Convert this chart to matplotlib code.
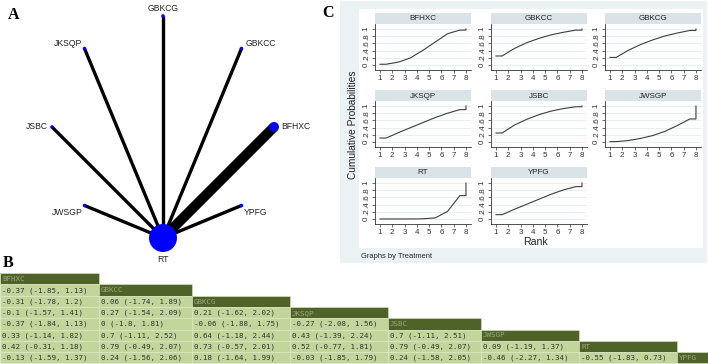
import numpy as np
import matplotlib
matplotlib.use('Agg')
import matplotlib.pyplot as plt
from matplotlib.patches import Rectangle

treatments = ['BFHXC', 'GBKCC', 'GBKCG', 'JKSQP', 'JSBC', 'JWSGP', 'RT', 'YPFG']

# network plot: every active arm was compared with RT
edges = [('BFHXC', 'RT'), ('GBKCC', 'RT'), ('GBKCG', 'RT'), ('JKSQP', 'RT'),
         ('JSBC', 'RT'), ('JWSGP', 'RT'), ('YPFG', 'RT')]
edge_studies = [3, 1, 1, 1, 1, 1, 1]
node_weight = [25, 3.2, 3.2, 3.2, 3.2, 3.2, 196, 3.2]

# cumulative ranking probabilities, P(rank <= k) for k = 1..7
cumprob = {
    'BFHXC': [0.02, 0.08, 0.20, 0.41, 0.64, 0.87, 0.97],
    'GBKCC': [0.25, 0.46, 0.62, 0.74, 0.84, 0.91, 0.97],
    'GBKCG': [0.21, 0.41, 0.57, 0.70, 0.81, 0.89, 0.96],
    'JKSQP': [0.11, 0.26, 0.40, 0.54, 0.68, 0.80, 0.90],
    'JSBC':  [0.25, 0.47, 0.63, 0.76, 0.86, 0.93, 0.98],
    'JWSGP': [0.01, 0.04, 0.10, 0.18, 0.30, 0.46, 0.64],
    'RT':    [0.00, 0.00, 0.00, 0.005, 0.03, 0.21, 0.65],
    'YPFG':  [0.12, 0.27, 0.41, 0.55, 0.69, 0.81, 0.90],
}

# league table (lower triangle), row i compares treatment i with column j
league = [
    [],
    ['-0.37 (-1.85, 1.13)'],
    ['-0.31 (-1.78, 1.2)', '0.06 (-1.74, 1.89)'],
    ['-0.1 (-1.57, 1.41)', '0.27 (-1.54, 2.09)', '0.21 (-1.62, 2.02)'],
    ['-0.37 (-1.84, 1.13)', '0 (-1.8, 1.81)', '-0.06 (-1.88, 1.75)', '-0.27 (-2.08, 1.56)'],
    ['0.33 (-1.14, 1.82)', '0.7 (-1.11, 2.52)', '0.64 (-1.18, 2.44)', '0.43 (-1.39, 2.24)',
     '0.7 (-1.11, 2.51)'],
    ['0.42 (-0.31, 1.18)', '0.79 (-0.49, 2.07)', '0.73 (-0.57, 2.01)', '0.52 (-0.77, 1.81)',
     '0.79 (-0.49, 2.07)', '0.09 (-1.19, 1.37)'],
    ['-0.13 (-1.59, 1.37)', '0.24 (-1.56, 2.06)', '0.18 (-1.64, 1.99)', '-0.03 (-1.85, 1.79)',
     '0.24 (-1.58, 2.05)', '-0.46 (-2.27, 1.34)', '-0.55 (-1.83, 0.73)'],
]

W, H = 708, 364
fig = plt.figure(figsize=(W / 100, H / 100), dpi=100)
SANS = 'Liberation Sans'


def px_axes(x0, y0, w, h, **kw):
    return fig.add_axes([x0 / W, 1 - (y0 + h) / H, w / W, h / H], **kw)


base = px_axes(0, 0, W, H, zorder=0)
base.set_xlim(0, W)
base.set_ylim(H, 0)
base.axis('off')

# panel letters
for lab, (x, y) in zip('ABC', [(8, 15), (3, 263), (322, 13)]):
    base.text(x, y, lab, fontsize=11.5, fontweight='bold', family='Liberation Serif',
              va='center', ha='left')

# ---------------- A: network ----------------
cx, cy, R = 163, 127, 111
ax = px_axes(13, 0, 300, 272, zorder=1)
ax.set_xlim((13 - cx) / R, (313 - cx) / R)
ax.set_ylim((cy - 272) / R, cy / R)
ax.axis('off')

ang = np.deg2rad(45 * np.arange(len(treatments)))
pos = {t: (np.cos(a), np.sin(a)) for t, a in zip(treatments, ang)}
for (a, b), n in zip(edges, edge_studies):
    ax.plot([pos[a][0], pos[b][0]], [pos[a][1], pos[b][1]], color='black',
            lw=2.4 * n, solid_capstyle='butt', zorder=1)
xs = [pos[t][0] for t in treatments]
ys = [pos[t][1] for t in treatments]
ax.scatter(xs, ys, s=[2.07 * w for w in node_weight], color='#0000FF',
           edgecolor='none', zorder=2)

label_off = {'BFHXC': (7, 0, 'left'), 'GBKCC': (4, -5, 'left'), 'GBKCG': (0, -7, 'center'),
             'JKSQP': (-2, -5, 'right'), 'JSBC': (-4, 0, 'right'), 'JWSGP': (-2, 7, 'right'),
             'RT': (0, 21, 'center'), 'YPFG': (2, 7, 'left')}
for t in treatments:
    dx, dy, ha = label_off[t]
    ax.annotate(t, pos[t], xytext=(dx * 0.72, -dy * 0.72), textcoords='offset points',
                ha=ha, va='center', fontsize=6.2, family=SANS, color='#222222')

# ---------------- C: cumulative rankograms ----------------
base.add_patch(Rectangle((340, 1), 367, 262, fc='#EAF2F3', ec='none', zorder=0))
base.add_patch(Rectangle((359, 9), 344, 239, fc='white', ec='none', zorder=0.5))

col_x = [375, 491, 605]
row_y = [13, 90, 167]
pw, strip_h, ph = 96, 11, 46
for i, t in enumerate(treatments):
    r, c = divmod(i, 3)
    x0, y0 = col_x[c], row_y[r]
    base.add_patch(Rectangle((x0, y0), pw, strip_h, fc='#D9E3E8', ec='none', zorder=1))
    base.text(x0 + pw / 2, y0 + strip_h / 2 + 0.5, t, ha='center', va='center',
              fontsize=5.8, family=SANS, color='#222222', zorder=2)
    sp = px_axes(x0, y0 + strip_h, pw, ph, zorder=2)
    cp = cumprob[t]
    xr = [1] + [k + 0.5 for k in range(1, 8)] + [8, 8]
    yr = [cp[0]] + cp + [cp[-1], 1]
    sp.plot(xr, yr, color='#3c3c3c', lw=0.8)
    sp.set_xlim(0.59, 8.41)
    sp.set_ylim(-0.14, 1.14)
    sp.set_xticks(range(1, 9))
    sp.set_yticks([0, 0.2, 0.4, 0.6, 0.8, 1])
    sp.set_yticklabels(['0', '.2', '.4', '.6', '.8', '1'], rotation=90, va='center')
    sp.tick_params(labelsize=5.8, length=2.5, width=0.5, pad=1.2, colors='#333333')
    for lab in sp.get_xticklabels() + sp.get_yticklabels():
        lab.set_family(SANS)
    sp.grid(axis='y', color='#E4ECEF', lw=0.6)
    sp.set_axisbelow(True)
    for s in ['top', 'right']:
        sp.spines[s].set_visible(False)
    for s in ['left', 'bottom']:
        sp.spines[s].set_linewidth(0.6)
        sp.spines[s].set_color('#333333')

base.text(353, 125, 'Cumulative Probabilities', rotation=90, ha='center', va='center',
          fontsize=7.3, family=SANS, color='#222222')
base.text(535, 242, 'Rank', ha='center', va='center', fontsize=7.6, family=SANS,
          color='#222222')
base.text(361, 257, 'Graphs by Treatment', ha='left', va='center', fontsize=5.4,
          family=SANS, color='#222222')

# ---------------- B: league table ----------------
col_edges = [0, 99, 192, 290, 388, 481, 579, 677, 775]
row_top, row_h = 273, 11.3
for i, t in enumerate(treatments):
    y = row_top + i * row_h
    for j in range(i + 1):
        x0, x1 = col_edges[j], col_edges[j + 1]
        diag = (j == i)
        base.add_patch(Rectangle((x0, y), x1 - x0, row_h,
                                 fc='#4F6228' if diag else '#C2D69B',
                                 ec='#DDE8C8', lw=0.4, zorder=1))
        txt = t if diag else league[i][j]
        base.text(x0 + 2, y + row_h / 2 + 0.3, txt, ha='left', va='center',
                  fontsize=5.4, family='DejaVu Sans Mono',
                  color='#9AA884' if diag else '#333333', zorder=2)

fig.savefig('out.png', dpi=100)
